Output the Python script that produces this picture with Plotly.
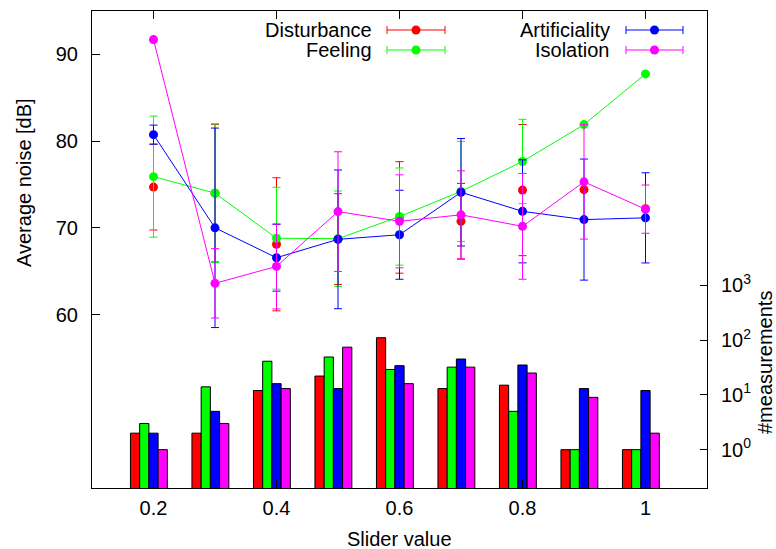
import plotly.graph_objects as go
import math

# ---- data ----
slider = [0.2, 0.3, 0.4, 0.5, 0.6, 0.7, 0.8, 0.9, 1.0]

disturbance = [74.7, 74.0, 68.1, 68.7, 71.2, 70.75, 74.35, 74.4, 72.2]
disturbance_err = [4.95, 7.93, 7.67, 5.23, 6.43, 4.37, 7.56, None, None]
feeling = [75.9, 74.0, 68.8, 68.75, 71.3, 74.2, 77.65, 81.9, 87.75]
feeling_err = [6.98, 8.0, 5.87, 5.5, 5.6, 5.77, 4.86, None, None]
artificiality = [80.74, 70.0, 66.55, 68.67, 69.2, 74.1, 71.9, 70.95, 71.15]
artificiality_err = [1.1, 11.5, 3.85, 8.0, 5.13, 6.2, 5.94, 6.98, 5.2]
isolation = [91.7, 63.6, 65.55, 71.87, 70.75, 71.5, 70.17, 75.3, 72.15]
isolation_err = [None, 4.0, 4.9, 6.9, 5.36, 5.07, 6.1, 6.6, 2.78]

n_disturbance = [2, 2, 12, 22, 110, 13, 15, 1, 1]
n_feeling = [3, 14, 41, 49, 29, 32, 5, 1, 1]
n_artificiality = [2, 5, 16, 13, 34, 45, 35, 13, 12]
n_isolation = [1, 3, 13, 74, 16, 32, 25, 9, 2]

names = ["Disturbance", "Feeling", "Artificiality", "Isolation"]
colors = ["#ff0000", "#00ff00", "#0000ff", "#ff00ff"]
modes = ["markers", "lines+markers", "lines+markers", "lines+markers"]
means = [disturbance, feeling, artificiality, isolation]
errs = [disturbance_err, feeling_err, artificiality_err, isolation_err]
counts = [n_disturbance, n_feeling, n_artificiality, n_isolation]

x_ticks = [0.2, 0.4, 0.6, 0.8, 1.0]
x_ticktext = ["0.2", "0.4", "0.6", "0.8", "1"]
y_ticks = [60, 70, 80, 90]
y2_ticks = [1, 10, 100, 1000]
y2_ticktext = ["10<sup>0</sup>", "10<sup>1</sup>", "10<sup>2</sup>", "10<sup>3</sup>"]

FONT = "Liberation Sans"
FS = 20
W, H = 776, 549
L, R, T, B = 92, 707, 11, 488

def pxx(x):
    return (x - L) / (R - L)

def pxy(y):
    return (B - y) / (B - T)

fig = go.Figure()

bar_w = 0.015
offsets = [-0.0375, -0.0225, -0.0075, 0.0075]
for name, c, n, off in zip(names, colors, counts, offsets):
    fig.add_trace(go.Bar(
        x=slider, y=n, width=bar_w, offset=off,
        marker=dict(color=c, line=dict(color="black", width=1)),
        xaxis="x", yaxis="y", showlegend=False, name=name,
    ))

for name, c, md, m, e in zip(names, colors, modes, means, errs):
    fig.add_trace(go.Scatter(
        x=slider, y=m, mode=md,
        line=dict(color=c, width=1),
        marker=dict(color=c, size=9, symbol="circle"),
        error_y=dict(type="data", array=e, visible=True, color=c, thickness=1, width=4),
        xaxis="x", yaxis="y2", showlegend=False, name=name,
    ))

axis_common = dict(showgrid=False, zeroline=False, showline=True, linecolor="black",
                   linewidth=1, ticks="inside", tickcolor="black",
                   tickfont=dict(family=FONT, size=FS, color="black"))

fig.update_layout(
    width=W, height=H,
    margin=dict(l=L, r=W - R, t=T, b=H - B, autoexpand=False),
    paper_bgcolor="white", plot_bgcolor="white",
    barmode="overlay",
    showlegend=False,
    font=dict(family=FONT, size=FS, color="black"),
    xaxis=dict(range=[0.1, 1.1], tickvals=x_ticks, ticktext=x_ticktext, ticklen=8,
               mirror="ticks", ticklabelstandoff=2, **axis_common),
    yaxis=dict(type="log", range=[math.log10(0.2), 8], side="right",
               tickvals=y2_ticks, ticktext=y2_ticktext, ticklen=7,
               ticklabelstandoff=9, **axis_common),
    yaxis2=dict(range=[40, 95], overlaying="y", side="left", tickvals=y_ticks,
                ticklen=8, ticklabelstandoff=9, **axis_common),
)

annotations = [
    dict(text="Slider value", x=pxx((L + R) / 2), y=pxy(539), xref="paper", yref="paper",
         showarrow=False, xanchor="center", yanchor="middle",
         font=dict(family=FONT, size=FS, color="black")),
    dict(text="Average noise [dB]", x=pxx(24), y=pxy(183), xref="paper", yref="paper",
         showarrow=False, xanchor="center", yanchor="middle", textangle=-90,
         font=dict(family=FONT, size=FS, color="black")),
    dict(text="#measurements", x=pxx(765), y=pxy(363), xref="paper", yref="paper",
         showarrow=False, xanchor="center", yanchor="middle", textangle=-90,
         font=dict(family=FONT, size=FS, color="black")),
]

shapes = []
legend_layout = [(374, 387, 445, 30), (374, 387, 445, 50), (612, 626, 683, 30), (612, 626, 683, 50)]
for name, c, (tx, x0, x1, y) in zip(names, colors, legend_layout):
    annotations.append(dict(text=name, x=pxx(tx), y=pxy(y), xref="paper", yref="paper",
                            showarrow=False, xanchor="right", yanchor="middle",
                            font=dict(family=FONT, size=FS, color="black")))
    shapes.append(dict(type="line", xref="paper", yref="paper", x0=pxx(x0), x1=pxx(x1),
                       y0=pxy(y), y1=pxy(y), line=dict(color=c, width=1)))
    for xe in (x0, x1):
        shapes.append(dict(type="line", xref="paper", yref="paper", x0=pxx(xe), x1=pxx(xe),
                           y0=pxy(y - 4), y1=pxy(y + 4), line=dict(color=c, width=1)))
    xc = (x0 + x1) / 2
    shapes.append(dict(type="circle", xref="paper", yref="paper",
                       x0=pxx(xc - 4.5), x1=pxx(xc + 4.5), y0=pxy(y + 4.5), y1=pxy(y - 4.5),
                       fillcolor=c, line=dict(color=c, width=0)))

fig.update_layout(annotations=annotations, shapes=shapes)

fig.write_html("out.html")
